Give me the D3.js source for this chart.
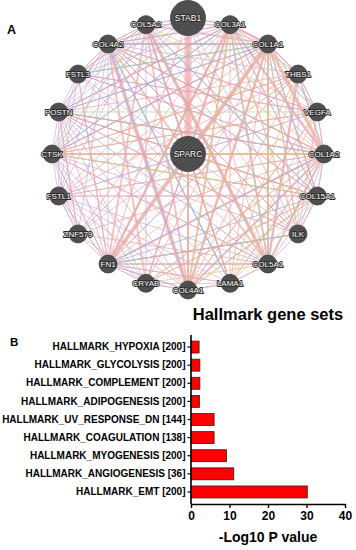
<!DOCTYPE html>
<html>
<head>
<meta charset="utf-8">
<script src="https://cdn.jsdelivr.net/npm/d3@7"></script>
<style>
  html, body { margin: 0; padding: 0; background: #fff; }
  svg { display: block; font-family: "Liberation Sans", Arial, sans-serif; }
</style>
</head>
<body>
<div id="chart"></div>
<script>
// ---- network (panel A) ----
const ringGenes = ["STAB1", "COL3A1", "COL1A1", "THBS1", "VEGFA", "COL1A2", "COL15A1", "ILK",
  "COL5A1", "LAMA1", "COL4A1", "CRYAB", "FN1", "ZNF579", "FSTL1", "CTSK", "POSTN", "FSTL3",
  "COL4A2", "COL5A2"];
const hubGene = "SPARC";
const bigGenes = ["STAB1", "SPARC"];

// strong links [source, target, weight]
const strongLinks = [
  ["SPARC", "STAB1", 7], ["COL4A2", "COL4A1", 4], ["COL1A1", "FN1", 4], ["COL5A2", "COL5A1", 3.5],
  ["COL1A1", "COL1A2", 3.5], ["COL3A1", "COL1A2", 2.5], ["COL3A1", "FN1", 2.5], ["COL1A1", "SPARC", 3],
  ["COL3A1", "SPARC", 2.5], ["COL1A2", "SPARC", 2], ["COL4A2", "SPARC", 2], ["COL5A2", "SPARC", 2],
  ["THBS1", "COL5A1", 2.5], ["COL1A1", "COL4A1", 2.5], ["COL3A1", "COL4A1", 2], ["COL5A2", "COL4A1", 2],
  ["COL4A2", "CRYAB", 2], ["COL5A2", "FN1", 2], ["COL1A1", "COL5A1", 2], ["COL3A1", "COL5A1", 2],
  ["COL1A1", "COL3A1", 2.5], ["COL5A2", "COL1A1", 2], ["COL4A2", "COL1A1", 2], ["FN1", "COL1A2", 2],
  ["SPARC", "FN1", 2], ["SPARC", "COL4A1", 2], ["SPARC", "COL5A1", 2], ["COL4A1", "COL1A2", 2],
  ["LAMA1", "COL4A2", 1.5], ["COL1A2", "COL5A1", 2], ["THBS1", "COL1A2", 2], ["COL1A1", "THBS1", 1.5]
];

// thin links by interaction type: [source, [targets]]
const physicalLinks = [
  ["STAB1", ["COL4A2", "COL1A1", "FN1", "COL4A1", "COL5A1", "CTSK", "COL3A1", "COL5A2"]],
  ["COL3A1", ["COL4A2", "CRYAB", "LAMA1", "COL15A1", "ZNF579", "POSTN", "COL1A1"]],
  ["COL1A1", ["CTSK", "FSTL1", "ZNF579", "CRYAB", "LAMA1", "ILK", "COL15A1", "THBS1"]],
  ["THBS1", ["FN1", "COL4A1", "POSTN", "CTSK", "FSTL1", "VEGFA"]],
  ["VEGFA", ["COL4A2", "CTSK", "ILK", "COL4A1", "FSTL3", "COL1A2"]],
  ["COL1A2", ["COL4A2", "FSTL3", "POSTN", "FSTL1", "ZNF579", "LAMA1", "COL15A1"]],
  ["COL15A1", ["COL4A2", "FSTL1", "CRYAB", "ILK"]],
  ["ILK", ["FN1", "COL4A2", "POSTN", "COL5A1"]],
  ["COL5A1", ["FN1", "FSTL3", "CTSK", "ZNF579", "LAMA1"]],
  ["LAMA1", ["FN1", "COL5A2", "COL4A1"]],
  ["COL4A1", ["FN1", "CTSK", "FSTL1", "POSTN", "CRYAB"]],
  ["FN1", ["POSTN", "CTSK", "FSTL1", "FSTL3", "CRYAB", "ZNF579"]],
  ["ZNF579", ["POSTN", "FSTL1"]],
  ["FSTL3", ["COL5A2", "COL4A2"]],
  ["COL4A2", ["COL5A2", "POSTN"]],
  ["SPARC", ["COL15A1", "CTSK", "POSTN", "LAMA1", "CRYAB"]]
];
const coexpressionLinks = [
  ["STAB1", ["COL3A1", "COL5A2", "POSTN", "FSTL3", "ILK", "COL1A2", "COL4A2"]],
  ["COL5A2", ["POSTN", "CTSK", "FSTL1", "FSTL3", "COL4A2", "COL15A1", "ILK", "CRYAB", "LAMA1", "COL3A1"]],
  ["COL4A2", ["FSTL3", "POSTN", "CTSK", "FSTL1", "ZNF579", "FN1", "COL1A2", "COL15A1", "VEGFA", "THBS1"]],
  ["FSTL3", ["POSTN", "CTSK", "FSTL1", "COL1A1", "COL3A1", "COL1A2", "FN1", "VEGFA"]],
  ["POSTN", ["CTSK", "FSTL1", "ZNF579", "COL1A1", "COL3A1", "COL1A2", "COL15A1", "ILK", "LAMA1", "CRYAB"]],
  ["CTSK", ["FSTL1", "ZNF579", "FN1", "COL1A1", "COL3A1", "COL5A1", "ILK", "CRYAB"]],
  ["FSTL1", ["ZNF579", "FN1", "COL3A1", "COL5A1", "COL15A1", "VEGFA", "CRYAB", "LAMA1"]],
  ["COL1A1", ["THBS1", "VEGFA", "COL15A1", "COL5A1", "COL4A1", "COL3A1"]],
  ["COL3A1", ["THBS1", "COL1A2", "COL15A1", "ILK", "VEGFA"]],
  ["COL1A2", ["COL15A1", "ILK", "COL5A1", "COL4A1", "CRYAB", "VEGFA"]],
  ["COL15A1", ["ILK", "COL5A1", "LAMA1", "COL4A1"]],
  ["FN1", ["CRYAB", "COL4A1", "LAMA1", "COL5A1", "ILK"]],
  ["CRYAB", ["COL4A1", "LAMA1", "ZNF579"]],
  ["THBS1", ["VEGFA", "COL5A1", "ILK"]],
  ["SPARC", ["POSTN", "CTSK", "FSTL1", "FSTL3", "COL15A1", "ILK", "LAMA1", "CRYAB", "ZNF579", "THBS1", "VEGFA"]]
];
const colocalizationLinks = [
  ["COL1A1", ["POSTN", "CTSK", "COL4A2", "FSTL3"]],
  ["COL3A1", ["POSTN", "CTSK", "FN1", "COL4A2"]],
  ["COL4A2", ["COL1A2", "ILK", "COL4A1"]],
  ["FN1", ["COL15A1", "COL1A2", "ILK", "THBS1"]],
  ["POSTN", ["COL1A2", "COL5A1"]],
  ["CTSK", ["COL15A1"]],
  ["COL5A2", ["COL15A1", "COL5A1"]],
  ["LAMA1", ["COL4A2", "COL4A1"]]
];
const predictedLinks = [
  ["COL3A1", ["COL4A1", "COL5A1", "ILK", "FN1", "THBS1"]],
  ["COL1A1", ["COL5A1", "COL1A2", "COL4A1", "VEGFA"]],
  ["COL5A2", ["COL1A2", "VEGFA", "COL5A1"]],
  ["VEGFA", ["COL4A1", "LAMA1", "CTSK", "FN1"]],
  ["COL1A2", ["CTSK", "CRYAB", "COL5A1", "LAMA1"]],
  ["COL15A1", ["POSTN", "CTSK", "COL4A1"]],
  ["SPARC", ["COL1A2", "COL15A1", "COL4A1", "LAMA1", "THBS1"]],
  ["CRYAB", ["COL5A1", "COL15A1"]],
  ["THBS1", ["LAMA1", "CTSK"]]
];
const geneticLinks = [
  ["POSTN", ["VEGFA", "COL1A2"]],
  ["CTSK", ["COL1A2", "COL15A1"]],
  ["FSTL3", ["COL1A1"]],
  ["COL1A1", ["COL15A1", "ILK", "COL5A1"]],
  ["FN1", ["COL5A1", "ILK"]],
  ["COL4A1", ["COL15A1"]],
  ["LAMA1", ["COL5A1"]],
  ["COL3A1", ["VEGFA"]]
];
const pathwayLinks = [
  ["COL1A1", ["COL15A1", "VEGFA"]],
  ["COL3A1", ["COL5A1"]],
  ["COL4A2", ["LAMA1"]],
  ["FN1", ["COL4A1", "ILK"]],
  ["THBS1", ["COL1A2"]]
];
const domainLinks = [
  ["COL5A2", ["FSTL3", "CTSK"]],
  ["COL4A2", ["COL5A1", "COL1A2"]],
  ["COL1A1", ["FN1"]],
  ["FSTL1", ["COL1A2"]],
  ["COL3A1", ["COL4A1"]]
];

// ---- bar chart (panel B) ----
const hallmarkSets = ["HALLMARK_HYPOXIA [200]", "HALLMARK_GLYCOLYSIS [200]", "HALLMARK_COMPLEMENT [200]",
  "HALLMARK_ADIPOGENESIS [200]", "HALLMARK_UV_RESPONSE_DN [144]", "HALLMARK_COAGULATION [138]",
  "HALLMARK_MYOGENESIS [200]", "HALLMARK_ANGIOGENESIS [36]", "HALLMARK_EMT [200]"];
const logP = [2.1, 2.3, 2.3, 2.2, 6.0, 6.0, 9.2, 11.1, 30.2];
const xTicks = [0, 10, 20, 30, 40];

const width = 356, height = 550;
const svg = d3.select("#chart").append("svg")
  .attr("width", width).attr("height", height)
  .attr("viewBox", [0, 0, width, height]);

// hatch for the query gene
const defs = svg.append("defs");
defs.append("pattern")
  .attr("id", "hatch").attr("patternUnits", "userSpaceOnUse")
  .attr("width", 3).attr("height", 3)
  .attr("patternTransform", "rotate(45)")
  .call(p => p.append("rect").attr("width", 3).attr("height", 3).attr("fill", "#545454"))
  .call(p => p.append("line").attr("x1", 0).attr("y1", 0).attr("x2", 0).attr("y2", 3)
    .attr("stroke", "#3a3a3a").attr("stroke-width", 1.4));

// ring layout
const cx = 188, cy = 154, R = 136;
const angle = d3.scalePoint().domain(ringGenes.concat("_end")).range([0, 2 * Math.PI]);
const pos = new Map(ringGenes.map(g => [g, [cx + R * Math.sin(angle(g)), cy - R * Math.cos(angle(g))]]));
pos.set(hubGene, [cx, cy]);

function expand(list, color) {
  return list.flatMap(([s, ts]) => ts.map(t => ({ s, t, color, w: 0.9 })));
}
const links = [
  ...strongLinks.map(([s, t, w]) => ({ s, t, color: "#f0adb0", w })),
  ...expand(coexpressionLinks, "#c4addb"),
  ...expand(colocalizationLinks, "#94a6df"),
  ...expand(geneticLinks, "#aad99a"),
  ...expand(predictedLinks, "#f5bd76"),
  ...expand(pathwayLinks, "#97d3e2"),
  ...expand(domainLinks, "#dcd08e"),
  ...expand(physicalLinks, "#ee9fa5")
];

svg.append("g")
  .attr("fill", "none")
  .selectAll("line")
  .data(links)
  .join("line")
  .attr("x1", d => pos.get(d.s)[0]).attr("y1", d => pos.get(d.s)[1])
  .attr("x2", d => pos.get(d.t)[0]).attr("y2", d => pos.get(d.t)[1])
  .attr("stroke", d => d.color)
  .attr("stroke-width", d => d.w)
  .attr("stroke-opacity", d => (d.w > 1 ? 0.7 : 0.75));

const nodes = svg.append("g")
  .selectAll("g")
  .data(ringGenes.concat(hubGene))
  .join("g")
  .attr("transform", d => `translate(${pos.get(d)})`);

nodes.append("circle")
  .attr("r", d => (bigGenes.includes(d) ? 17.5 : 9))
  .attr("fill", d => (d === hubGene ? "url(#hatch)" : "#4f4f4f"))
  .attr("stroke", "#3d3d3d")
  .attr("stroke-width", 0.8);

nodes.append("text")
  .attr("text-anchor", "middle")
  .attr("dy", "0.35em")
  .attr("font-size", d => (bigGenes.includes(d) ? 8.5 : 8))
  .attr("fill", "#fff")
  .attr("stroke", "#2a2a2a")
  .attr("stroke-width", 1.8)
  .attr("stroke-linejoin", "round")
  .attr("paint-order", "stroke")
  .text(d => d);

svg.append("text").attr("x", 7).attr("y", 34)
  .attr("font-size", 12.5).attr("font-weight", "bold").text("A");

// bar chart
const x = d3.scaleLinear().domain([0, 40]).range([191, 345]);
const y = d3.scaleBand().domain(hallmarkSets).range([338, 501]).paddingInner(0.34).paddingOuter(0.17);
const yBottom = 504;

svg.append("text").attr("x", 268).attr("y", 319.5)
  .attr("text-anchor", "middle").attr("font-size", 16.5).attr("font-weight", "bold")
  .text("Hallmark gene sets");

svg.append("text").attr("x", 10).attr("y", 345.5)
  .attr("font-size", 11.5).attr("font-weight", "bold").text("B");

svg.append("g")
  .selectAll("rect")
  .data(hallmarkSets)
  .join("rect")
  .attr("x", x(0))
  .attr("y", d => y(d))
  .attr("width", (d, i) => x(logP[i]) - x(0))
  .attr("height", y.bandwidth())
  .attr("fill", "#ff0000")
  .attr("stroke", "#3a1a1a")
  .attr("stroke-width", 0.8);

const xAxis = svg.append("g")
  .attr("transform", `translate(0,${yBottom})`)
  .call(d3.axisBottom(x).tickValues(xTicks).tickSize(4).tickPadding(3).tickSizeOuter(0));
xAxis.select(".domain").attr("stroke-width", 1.6);
xAxis.selectAll(".tick line").attr("stroke-width", 1.4);
xAxis.selectAll("text").attr("font-size", 12).attr("font-weight", "bold")
  .attr("font-family", "Liberation Sans, Arial, sans-serif").attr("fill", "#000");

const yAxis = svg.append("g")
  .attr("transform", `translate(${x(0)},0)`)
  .call(d3.axisLeft(y).tickSize(3.5).tickPadding(2).tickSizeOuter(0));
yAxis.select(".domain").attr("d", `M0,335V${yBottom}`).attr("stroke-width", 1.6);
yAxis.selectAll(".tick line").attr("stroke-width", 1.2);
yAxis.selectAll("text").attr("font-size", 10).attr("font-weight", "bold")
  .attr("font-family", "Liberation Sans, Arial, sans-serif").attr("fill", "#000");

svg.append("text").attr("x", 268).attr("y", 542)
  .attr("text-anchor", "middle").attr("font-size", 14).attr("font-weight", "bold")
  .text("-Log10 P value");
</script>
</body>
</html>
